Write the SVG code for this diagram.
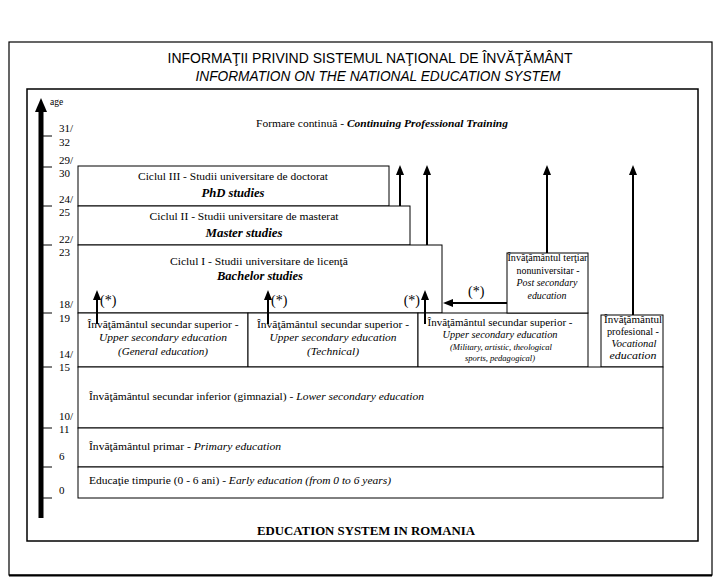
<svg xmlns="http://www.w3.org/2000/svg" width="721" height="586" viewBox="0 0 721 586">
<style>
.t{font-family:"Liberation Serif","Times New Roman",serif;font-size:11px;fill:#000}
.i{font-style:italic}
.b{font-weight:bold}
.c{text-anchor:middle}
.box{fill:#fff;stroke:#000;stroke-width:1}
.ar{stroke:#000;stroke-width:2;fill:none}
.tk{stroke:#000;stroke-width:1}
.ag{font-family:"Liberation Serif","Times New Roman",serif;font-size:11px}
.st{font-family:"Liberation Serif","Times New Roman",serif;font-size:14px}
</style>
<defs>
<marker id="ah" viewBox="0 0 10 8" refX="1" refY="4" markerWidth="10" markerHeight="8" markerUnits="userSpaceOnUse" orient="auto">
<path d="M0,0 L10,4 L0,8 z" fill="#000"/>
</marker>
</defs>
<rect width="721" height="586" fill="#fff"/>
<g id="frames">
<rect x="9" y="42" width="703" height="533" fill="none" stroke="#000" stroke-width="1.2"/>
<line x1="9" y1="575.5" x2="712" y2="575.5" stroke="#000" stroke-width="2"/>
<rect x="27" y="89" width="671" height="452" fill="none" stroke="#000" stroke-width="1.5"/>
</g>
<g id="titles">
<text x="370" y="63" class="c" style="font-family:'Liberation Sans Narrow','Liberation Sans',sans-serif;font-size:15px" textLength="405" lengthAdjust="spacingAndGlyphs">INFORMAŢII PRIVIND SISTEMUL NAŢIONAL DE ÎNVĂŢĂMÂNT</text>
<text x="378" y="81" class="c" style="font-family:'Liberation Sans Narrow','Liberation Sans',sans-serif;font-size:15px;font-style:italic" textLength="365" lengthAdjust="spacingAndGlyphs">INFORMATION ON THE NATIONAL EDUCATION SYSTEM</text>
<text x="366" y="535" class="t b c" style="font-size:12.5px" textLength="218" lengthAdjust="spacingAndGlyphs">EDUCATION SYSTEM IN ROMANIA</text>
<text x="382" y="127" class="t c" textLength="252" lengthAdjust="spacingAndGlyphs">Formare continuă - <tspan class="i b">Continuing Professional Training</tspan></text>
</g>
<g id="age-axis">
<line x1="41" y1="518" x2="41" y2="110" stroke="#000" stroke-width="5"/>
<polygon points="35,112 47,112 41,98" fill="#000"/>
<text x="50" y="105" class="ag" style="font-size:9.5px">age</text>
<line class="tk" x1="43" y1="136" x2="52" y2="136"/>
<line class="tk" x1="43" y1="167" x2="52" y2="167"/>
<line class="tk" x1="43" y1="206" x2="52" y2="206"/>
<line class="tk" x1="43" y1="245" x2="52" y2="245"/>
<line class="tk" x1="43" y1="313" x2="52" y2="313"/>
<line class="tk" x1="43" y1="367" x2="52" y2="367"/>
<line class="tk" x1="43" y1="428" x2="52" y2="428"/>
<line class="tk" x1="43" y1="467" x2="52" y2="467"/>
<line class="tk" x1="43" y1="498" x2="52" y2="498"/>
<text class="ag" x="59" y="132">31/</text><text class="ag" x="59" y="146">32</text>
<text class="ag" x="59" y="164">29/</text><text class="ag" x="59" y="177">30</text>
<text class="ag" x="59" y="203">24/</text><text class="ag" x="59" y="216">25</text>
<text class="ag" x="59" y="243">22/</text><text class="ag" x="59" y="256">23</text>
<text class="ag" x="59" y="308">18/</text><text class="ag" x="59" y="322">19</text>
<text class="ag" x="59" y="358">14/</text><text class="ag" x="59" y="371">15</text>
<text class="ag" x="59" y="420">10/</text><text class="ag" x="59" y="433">11</text>
<text class="ag" x="59" y="460">6</text>
<text class="ag" x="59" y="494">0</text>
</g>
<g id="phd">
<rect class="box" x="78" y="166" width="311" height="40"/>
<text class="t c" x="233" y="180" textLength="190" lengthAdjust="spacingAndGlyphs">Ciclul III - Studii universitare de doctorat</text>
<text class="t c i b" x="233" y="197" style="font-size:12.5px" textLength="63" lengthAdjust="spacingAndGlyphs">PhD studies</text>
</g>
<g id="master">
<rect class="box" x="78" y="206" width="332" height="39"/>
<text class="t c" x="244" y="220" textLength="189" lengthAdjust="spacingAndGlyphs">Ciclul II - Studii universitare de masterat</text>
<text class="t c i b" x="244" y="237" style="font-size:12.5px" textLength="77" lengthAdjust="spacingAndGlyphs">Master studies</text>
</g>
<g id="bachelor">
<rect class="box" x="78" y="245" width="364" height="68"/>
<text class="t c" x="259" y="265" textLength="178" lengthAdjust="spacingAndGlyphs">Ciclul I - Studii universitare de licenţă</text>
<text class="t c i b" x="260" y="280" style="font-size:12.5px" textLength="86" lengthAdjust="spacingAndGlyphs">Bachelor studies</text>
</g>
<g id="upper-general">
<rect class="box" x="78" y="313" width="170" height="54"/>
<text class="t c" x="163" y="328" textLength="151" lengthAdjust="spacingAndGlyphs">Învăţământul secundar superior -</text>
<text class="t c i" x="163" y="341" textLength="128" lengthAdjust="spacingAndGlyphs">Upper secondary education</text>
<text class="t c i" x="163" y="355" textLength="90" lengthAdjust="spacingAndGlyphs">(General education)</text>
</g>
<g id="upper-technical">
<rect class="box" x="248" y="313" width="170" height="54"/>
<text class="t c" x="333" y="328" textLength="152" lengthAdjust="spacingAndGlyphs">Învăţământul secundar superior -</text>
<text class="t c i" x="333" y="341" textLength="127" lengthAdjust="spacingAndGlyphs">Upper secondary education</text>
<text class="t c i" x="333" y="355" textLength="52" lengthAdjust="spacingAndGlyphs">(Technical)</text>
</g>
<g id="upper-specialised">
<rect class="box" x="418" y="313" width="170" height="54"/>
<text class="t c" x="500" y="326" textLength="145" lengthAdjust="spacingAndGlyphs">Învăţământul secundar superior -</text>
<text class="t c i" x="500" y="338" textLength="115" lengthAdjust="spacingAndGlyphs">Upper secondary education</text>
<text class="t c i" x="501" y="350" style="font-size:9px" textLength="102" lengthAdjust="spacingAndGlyphs">(Military, artistic, theological</text>
<text class="t c i" x="500" y="361" style="font-size:9px" textLength="70" lengthAdjust="spacingAndGlyphs">sports, pedagogical)</text>
</g>
<g id="post-secondary">
<rect class="box" x="507" y="253" width="81" height="60"/>
<text class="t c" x="547.5" y="261" style="font-size:10px" textLength="80" lengthAdjust="spacingAndGlyphs">Învăţământul terţiar</text>
<text class="t c" x="548" y="274" style="font-size:10px" textLength="63" lengthAdjust="spacingAndGlyphs">nonuniversitar -</text>
<text class="t c i" x="547" y="286" style="font-size:10px" textLength="61" lengthAdjust="spacingAndGlyphs">Post secondary</text>
<text class="t c i" x="547" y="299" style="font-size:10px" textLength="39" lengthAdjust="spacingAndGlyphs">education</text>
</g>
<g id="vocational">
<rect class="box" x="601" y="315" width="62" height="52"/>
<text class="t c" x="633" y="323" style="font-size:10px" textLength="58" lengthAdjust="spacingAndGlyphs">Învăţământul</text>
<text class="t c" x="633" y="335" style="font-size:10px" textLength="52" lengthAdjust="spacingAndGlyphs">profesional -</text>
<text class="t c i" x="634" y="347" style="font-size:10px" textLength="45" lengthAdjust="spacingAndGlyphs">Vocational</text>
<text class="t c i" x="633" y="359" style="font-size:10px" textLength="47" lengthAdjust="spacingAndGlyphs">education</text>
</g>
<g id="lower-secondary">
<rect class="box" x="78" y="367" width="585" height="61"/>
<text class="t" x="89" y="400" textLength="335" lengthAdjust="spacingAndGlyphs">Învăţământul secundar inferior (gimnazial) - <tspan class="i">Lower secondary education</tspan></text>
</g>
<g id="primary">
<rect class="box" x="78" y="428" width="585" height="39"/>
<text class="t" x="89" y="450" textLength="192" lengthAdjust="spacingAndGlyphs">Învăţământul primar - <tspan class="i">Primary education</tspan></text>
</g>
<g id="early">
<rect class="box" x="78" y="467" width="585" height="31"/>
<text class="t" x="89" y="484" textLength="302" lengthAdjust="spacingAndGlyphs">Educaţie timpurie (0 - 6 ani) - <tspan class="i">Early education (from 0 to 6 years)</tspan></text>
</g>
<g id="connectors">
<line class="ar" x1="97" y1="324" x2="97" y2="299" marker-end="url(#ah)"/>
<line class="ar" x1="268" y1="324" x2="268" y2="299" marker-end="url(#ah)"/>
<line class="ar" x1="425" y1="324" x2="425" y2="299" marker-end="url(#ah)"/>
<line class="ar" x1="400" y1="206" x2="400" y2="174" stroke-width="3" marker-end="url(#ah)"/>
<line class="ar" x1="427" y1="245" x2="427" y2="174" marker-end="url(#ah)"/>
<line class="ar" x1="547" y1="253" x2="547" y2="174" marker-end="url(#ah)"/>
<line class="ar" x1="633" y1="315" x2="633" y2="174" marker-end="url(#ah)"/>
<line class="ar" x1="507" y1="303" x2="452" y2="303" stroke-width="3" marker-end="url(#ah)"/>
<text class="st" x="100" y="305">(*)</text>
<text class="st" x="271" y="305">(*)</text>
<text class="st" x="420" y="305" style="text-anchor:end">(*)</text>
<text class="st" x="468" y="296">(*)</text>
</g>
</svg>
